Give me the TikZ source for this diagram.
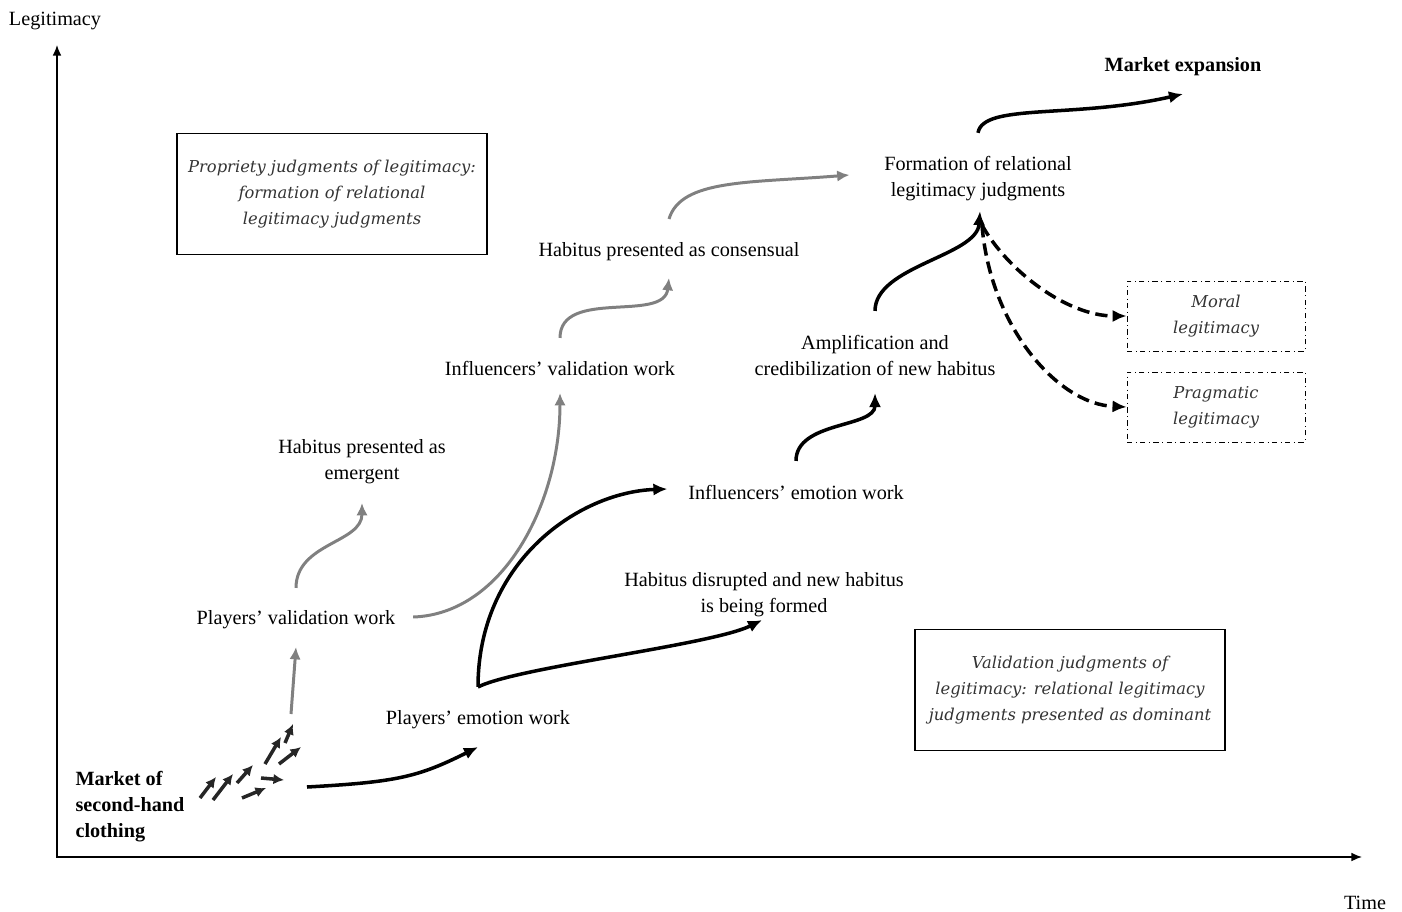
\documentclass[tikz,border=0pt]{standalone}
\usepackage{fontspec}
\setmainfont{Liberation Serif}
\newfontfamily\judgfont{DejaVu Serif}
\usetikzlibrary{calc,arrows.meta}

\tikzset{
	lbl/.style={font=\fontsize{11.5}{14.8}\selectfont, align=center, outer sep=0.3cm},
	boldlbl/.style={lbl, font=\fontsize{11.5}{14.8}\selectfont\bfseries},
	judgbox/.style={draw, line width=1pt, minimum width=6.2cm, minimum height=2.42cm, align=center, text=black!80, font=\judgfont\itshape\fontsize{9.3}{15}\selectfont},
	kindbox/.style={draw, line width=0.5pt, dash dot, minimum width=3.56cm, minimum height=1.4cm, align=center, text=black!80, font=\judgfont\itshape\fontsize{9.3}{15}\selectfont},
	axis/.style={line width=0.85pt, {Latex[length=6pt,width=5pt]}-{Latex[length=6pt,width=5pt]}},
	graycurve/.style={draw=black!50, line width=1.7pt, -{Latex[length=7pt,width=6.5pt]}},
	blackcurve/.style={line width=2pt, -{Latex[length=8pt,width=7pt]}},
	dashcurve/.style={blackcurve, dash pattern=on 7pt off 3.5pt},
	tinyarrow/.style={draw=black!85, line width=2pt, -{Latex[length=6pt,width=6pt]}}
}

\begin{document}
\begin{tikzpicture}[x=0.02cm, y=-0.02cm]
	%%%%% START %%%%%
	\useasboundingbox (0,0) rectangle (1402,912);
	
	% axes
	\coordinate (origin) at (57,857);
	\coordinate (ytip) at (57,45);
	\coordinate (xtip) at (1362,857);
	\draw[axis] (ytip) -- (origin) -- (xtip);
	\node[lbl] (legit) at (55,21) {Legitimacy};
	\node[lbl] (time) at (1365,903) {Time};
	
	% judgment boxes
	\node[judgbox] (propriety) at (332,194) {Propriety judgments of legitimacy:\\formation of relational\\legitimacy judgments};
	\node[judgbox] (validation) at (1070,690) {Validation judgments of\\legitimacy: relational legitimacy\\judgments presented as dominant};
	\node[kindbox] (moral) at (1216,316) {Moral\\legitimacy};
	\node[kindbox] (pragmatic) at (1216,407) {Pragmatic\\legitimacy};
	
	% stages
	\node[boldlbl, align=left] (market) at (130,807) {Market of\\second-hand\\clothing};
	\node[lbl] (pvw) at (296,620) {Players’ validation work};
	\node[lbl] (pew) at (478,720) {Players’ emotion work};
	\node[lbl] (hpe) at (362,462) {Habitus presented as\\emergent};
	\node[lbl] (ivw) at (560,368) {Influencers’ validation work};
	\node[lbl] (hpc) at (669,252) {Habitus presented as consensual};
	\node[lbl] (iew) at (796,492) {Influencers’ emotion work};
	\node[lbl] (hdn) at (764,595) {Habitus disrupted and new habitus\\is being formed};
	\node[lbl] (acn) at (875,355) {Amplification and\\credibilization of new habitus};
	\node[lbl] (frl) at (978,179) {Formation of relational\\legitimacy judgments};
	\node[boldlbl] (mexp) at (1183,67) {Market expansion};
	
	% swarm of small arrows
	\foreach \xa/\ya/\xb/\yb in {200/798/216/777, 213/800/233/774, 237/783/253/765, 242/798/266/788, 261/778/284/780, 265/764/281/737, 279/764/301/747, 285/743/293/724}
		\draw[tinyarrow] (\xa,\ya) -- (\xb,\yb);
	\coordinate (swarmtop) at (291,714);
	\coordinate (swarmright) at (307,787);
	
	% validation path (gray)
	\draw[graycurve] (swarmtop) -- ($(pvw.south)+(0,-3)$);
	\draw[graycurve] ($(pvw.north)+(0,-2)$) .. controls +(0,-45) and +(0,40) .. ($(hpe.south)+(0,-2)$);
	\draw[graycurve] ($(pvw.east)+(-3,-3)$) .. controls +(90,-3) and +(0,110) .. ($(ivw.south)+(0,-3)$);
	\draw[graycurve] ($(ivw.north)+(0,-2)$) .. controls +(0,-50) and +(-5,45) .. ($(hpc.south)+(0,-4)$);
	\draw[graycurve] ($(hpc.north)+(0,-3)$) .. controls +(12,-40) and +(-100,8) .. ($(frl.west)+(-14,-4)$);
	
	% emotion path (black)
	\draw[blackcurve] (swarmright) .. controls +(90,-5) and +(-60,30) .. ($(pew.south)+(0,-3)$);
	\draw[blackcurve] ($(pew.north)+(0,-3)$) .. controls +(0,-126) and +(-88,3) .. ($(iew.west)+(0,-3)$);
	\draw[blackcurve] ($(pew.north)+(0,-3)$) .. controls +(40,-20) and +(-50,25) .. ($(hdn.south)+(-2,-18)$);
	\draw[blackcurve] ($(iew.north)+(0,-3)$) .. controls +(0,-40) and +(0,35) .. ($(acn.south)+(0,-3)$);
	\draw[blackcurve] ($(acn.north)+(0,-3)$) .. controls +(0,-45) and +(-3,45) .. ($(frl.south)+(2,-11)$);
	\draw[blackcurve] ($(frl.north)+(0,-3)$) .. controls +(5,-30) and +(-110,25) .. ($(mexp.south)+(0,-3)$);
	\draw[dashcurve] ($(frl.south)+(4,3)$) .. controls +(25,45) and +(-60,0) .. (moral.west);
	\draw[dashcurve] ($(frl.south)+(4,3)$) .. controls +(8,100) and +(-70,-3) .. (pragmatic.west);
	
	%%%%% END %%%%%
\end{tikzpicture}
\end{document}
